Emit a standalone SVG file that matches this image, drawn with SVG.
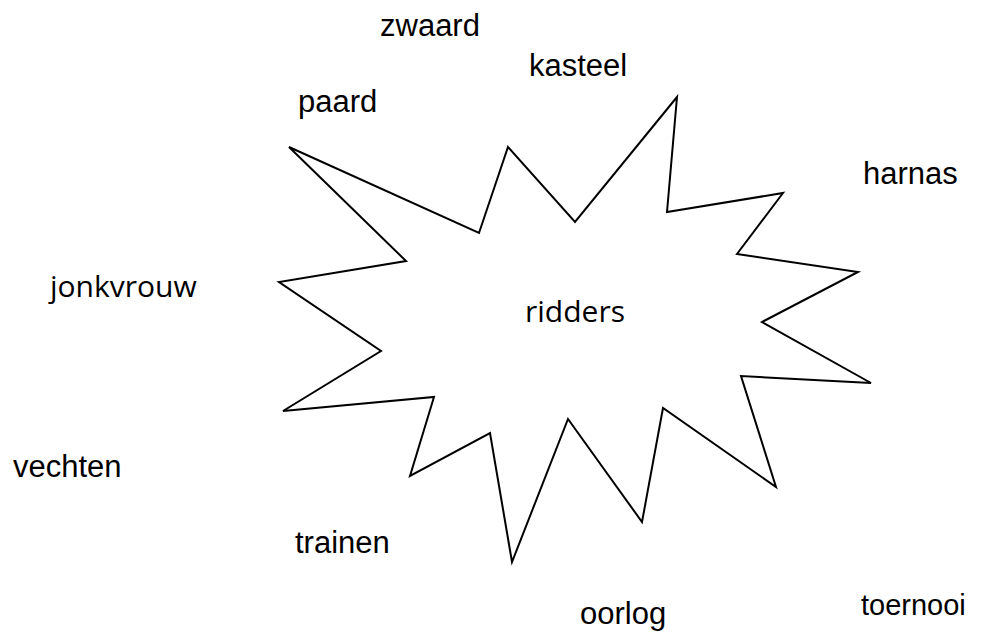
<svg xmlns="http://www.w3.org/2000/svg" width="983" height="633" viewBox="0 0 983 633">
<style>
.w{font-family:"Liberation Sans",Arial,sans-serif;font-size:31px;fill:#000}
.s{font-family:"Open Sans","DejaVu Sans",sans-serif;font-size:30px;fill:#000}
.star{fill:#fff;stroke:#000;stroke-width:2;stroke-linejoin:miter}
</style>
<rect width="983" height="633" fill="#fff"/>
<g id="center">
<polygon class="star" points="289,147 479,233 508,147 575,222 677,97 667,212 783,193 737,254 858,272 762,322 871,383 741,376 776,487 663,408 642,522 568,419 512,562 490,433 410,476 434,397 283,411 381,351 279,282 406,261"/>
<text class="s" x="525" y="322">ridders</text>
</g>
<g id="connectors"></g>
<g id="zwaard"><text class="w" x="380" y="36">zwaard</text></g>
<g id="kasteel"><text class="w" x="529" y="76">kasteel</text></g>
<g id="paard"><text class="w" x="298" y="112">paard</text></g>
<g id="harnas"><text class="w" x="863" y="184">harnas</text></g>
<g id="jonkvrouw"><text class="s" x="50" y="297">jonkvrouw</text></g>
<g id="vechten"><text class="w" x="13" y="477">vechten</text></g>
<g id="trainen"><text class="w" x="295" y="553">trainen</text></g>
<g id="toernooi"><text class="w" x="861" y="615" style="font-size:29px">toernooi</text></g>
<g id="oorlog"><text class="w" x="580" y="624">oorlog</text></g>
</svg>
